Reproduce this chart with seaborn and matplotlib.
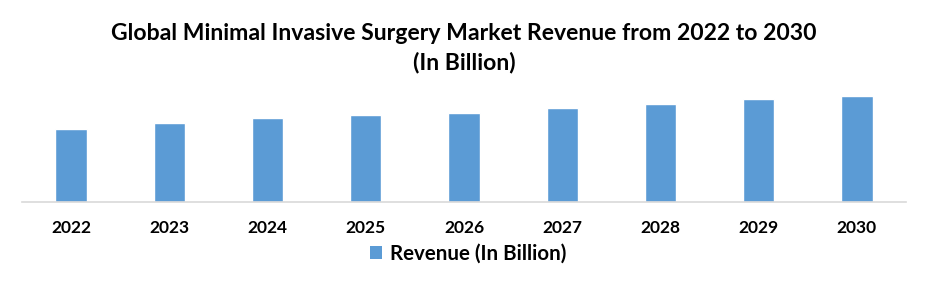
import matplotlib
matplotlib.use("Agg")
import matplotlib.pyplot as plt
import seaborn as sns
import pandas as pd

years = ["2022", "2023", "2024", "2025", "2026", "2027", "2028", "2029", "2030"]
revenue = [24.3, 26.3, 28.0, 29.0, 29.7, 31.3, 32.7, 34.3, 35.3]
series_name = "Revenue (In Billion)"
title_line1 = "Global Minimal Invasive Surgery Market Revenue from 2022 to 2030"
title_line2 = "(In Billion)"

sns.set_theme(style="white")
plt.rcParams['font.family'] = ['Lato', 'DejaVu Sans']
plt.rcParams['text.color'] = 'black'

df = pd.DataFrame({"Year": years, "Revenue": revenue, "Series": series_name})

fig = plt.figure(figsize=(9.28, 2.86), dpi=100)
ax = fig.add_axes([22/928, (286-202)/286, (906-22)/928, 116/286])
sns.barplot(data=df, x="Year", y="Revenue", hue="Series", palette=["#5B9BD5"],
            width=0.32, ax=ax, legend=False, saturation=1)
ax.set_xlim(-0.5, 8.5)
ax.set_ylim(0, 38.67)
ax.set_xlabel("")
ax.set_ylabel("")
ax.set_yticks([])
for s in ["top", "right", "left"]:
    ax.spines[s].set_visible(False)
ax.spines["bottom"].set_color("#D9D9D9")
ax.spines["bottom"].set_linewidth(1.2)
ax.tick_params(axis="x", length=0, pad=13, colors="black")
for lbl in ax.get_xticklabels():
    lbl.set_fontsize(12.5)
    lbl.set_fontweight("bold")
    lbl.set_color("black")

fig.text(0.5, 1 - 33.5/286, title_line1, ha="center", va="center",
         fontsize=16.6, fontweight="bold", color="black")
fig.text(0.5, 1 - 62.5/286, title_line2, ha="center", va="center",
         fontsize=16.6, fontweight="bold", color="black")

from matplotlib.patches import Patch
handle = Patch(facecolor="#5B9BD5", edgecolor="none")
leg = fig.legend([handle], [series_name], loc="center", bbox_to_anchor=(468/928, 1 - 254/286),
           frameon=False, prop={"size": 14.8, "weight": "bold"},
           handlelength=0.6, handleheight=0.6, handletextpad=0.35)
for t in leg.get_texts():
    t.set_color("black")

fig.savefig("out.png", dpi=100)
